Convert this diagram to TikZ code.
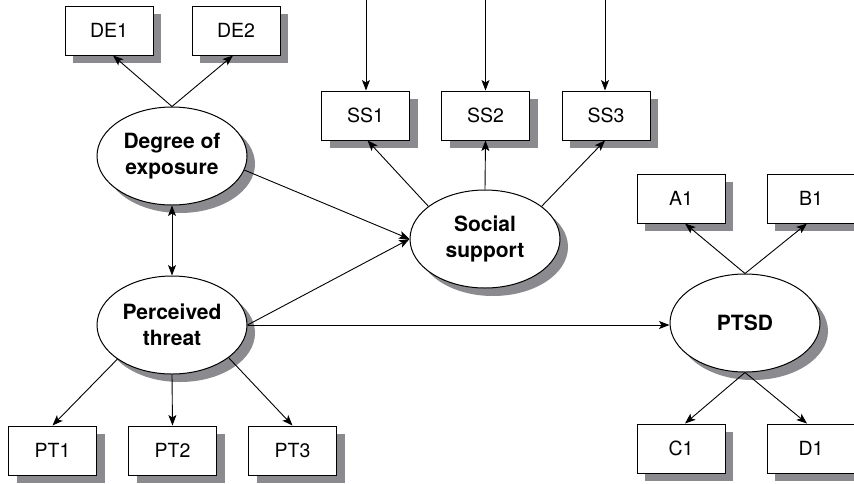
\documentclass[tikz,border=0pt]{standalone}
\usepackage{fontspec}
\setmainfont{TeX Gyre Heros}
\usetikzlibrary{arrows.meta,shadows,shapes.geometric}
\definecolor{shade}{RGB}{138,138,143}
\begin{document}
\begin{tikzpicture}[x=1pt,y=-1pt,
  every node/.style={font=\fontsize{19.5}{23}\selectfont},
  indicator/.style={draw=black,line width=1pt,fill=white,rectangle,
    minimum width=88pt,minimum height=49pt,inner sep=0pt,
    drop shadow={shadow xshift=8pt,shadow yshift=-8pt,fill=shade,opacity=1}},
  latent/.style={draw=black,line width=1pt,fill=white,ellipse,
    minimum width=150pt,minimum height=98pt,inner sep=0pt,align=center,
    font=\fontsize{21}{25.5}\selectfont\bfseries,
    drop shadow={shadow xshift=8pt,shadow yshift=-8pt,fill=shade,opacity=1}},
  path/.style={line width=0.9pt,-{Stealth[length=10.5pt,width=8pt,inset=2.5pt]}},
  twoway/.style={line width=0.9pt,{Stealth[length=10.5pt,width=8pt,inset=2.5pt]}-{Stealth[length=10.5pt,width=8pt,inset=2.5pt]}}
]
\useasboundingbox (0,0) rectangle (854,483);

% latent variables
\node[latent] (DE) at (172,156) {Degree of\\exposure};
\node[latent] (PT) at (172,325) {Perceived\\threat};
\node[latent] (SOC) at (485,239) {Social\\support};
\node[latent] (PTSD) at (745,323) {PTSD};

% observed indicators
\node[indicator] (DE1) at (109,30.5) {DE1};
\node[indicator] (DE2) at (236,30.5) {DE2};
\node[indicator] (SS1) at (365.5,115.5) {SS1};
\node[indicator] (SS2) at (485.5,115.5) {SS2};
\node[indicator] (SS3) at (606,115.5) {SS3};
\node[indicator] (PT1) at (52.5,450.5) {PT1};
\node[indicator] (PT2) at (172.5,450.5) {PT2};
\node[indicator] (PT3) at (292.5,450.5) {PT3};
\node[indicator] (A1) at (681,198.5) {A1};
\node[indicator] (B1) at (811,198.5) {B1};
\node[indicator] (C1) at (681,448.5) {C1};
\node[indicator] (D1) at (811,448.5) {D1};

% error terms on social support indicators
\coordinate (e1) at (366,0);
\coordinate (e2) at (485.5,0);
\coordinate (e3) at (605,0);
\draw[path] (e1) -- (SS1.north -| e1);
\draw[path] (e2) -- (SS2.north);
\draw[path] (e3) -- (SS3.north -| e3);

% measurement paths
\draw[path] (DE.north) -- ([xshift=4pt]DE1.south);
\draw[path] (DE.north) -- ([xshift=-3pt]DE2.south);
\draw[path] (SOC.150) -- ([xshift=2pt]SS1.south);
\draw[path] (SOC.north) -- (SS2.south);
\draw[path] (SOC.30) -- ([xshift=-1pt]SS3.south);
\draw[path] (PT.-148) -- (PT1.north);
\draw[path] (PT.south) -- (PT2.north);
\draw[path] (PT.-30) -- (PT3.north);
\draw[path] (PTSD.north) -- ([xshift=4pt]A1.south);
\draw[path] (PTSD.north) -- ([xshift=-4pt]B1.south);
\draw[path] (PTSD.south) -- ([xshift=4pt]C1.north);
\draw[path] (PTSD.south) -- ([xshift=-4pt]D1.north);

% structural paths
\draw[twoway] (DE.south) -- (PT.north);
\draw[path] (DE.-11) -- (SOC.west);
\draw[path] (PT.east) -- (SOC.west);
\draw[path] (PT.east) -- (PTSD.west |- PT.east);
\end{tikzpicture}
\end{document}
